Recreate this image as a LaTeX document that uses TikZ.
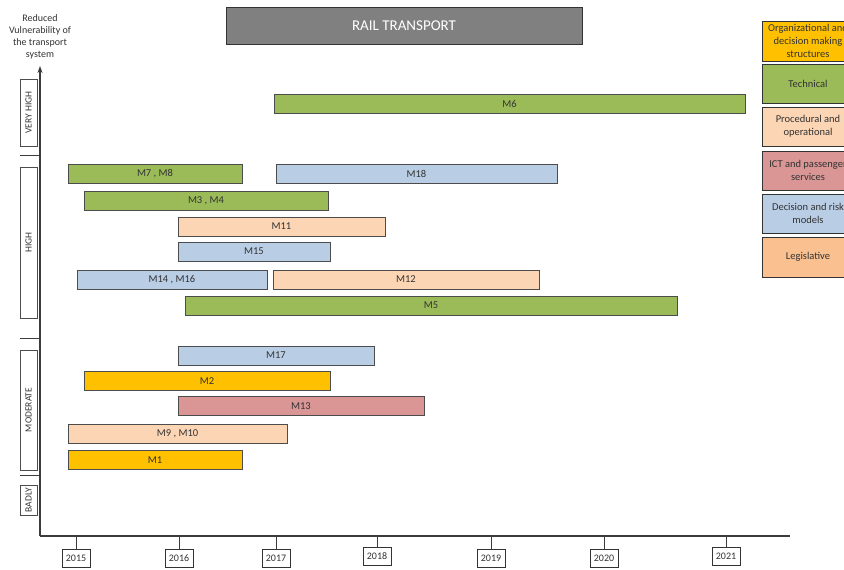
\documentclass[tikz,border=0pt]{standalone}
\usepackage{fontspec}
\setmainfont{Carlito}
\usetikzlibrary{arrows.meta}
\definecolor{techgreen}{RGB}{155,187,89}
\definecolor{procpeach}{RGB}{252,213,181}
\definecolor{ictrose}{RGB}{217,150,148}
\definecolor{decblue}{RGB}{185,205,229}
\definecolor{orgyellow}{RGB}{255,192,0}
\definecolor{legorange}{RGB}{250,192,144}
\definecolor{axisgray}{RGB}{60,60,60}
\begin{document}
\begin{tikzpicture}[x=1pt,y=-1pt,line width=.8pt,
  every node/.style={inner sep=1pt,text=black!80},
  mbar/.style={draw=black!70,minimum height=19pt,inner sep=0pt,font=\fontsize{10.5}{11}\selectfont},
  legbox/.style={draw=black!80,minimum width=92pt,minimum height=39pt,align=center,
    font=\fontsize{10.5}{13}\selectfont},
  level/.style={draw=black!70,rotate=90,minimum height=17pt,inner sep=0pt,
    font=\fontsize{9.5}{10}\selectfont},
  year/.style={draw=black!80,fill=white,minimum width=28pt,minimum height=18pt,inner sep=0pt,
    font=\fontsize{10}{10}\selectfont}]
  \path[use as bounding box] (0,0) rectangle (844,570);
  % title
  \node[draw=black!80,fill=black!50,minimum width=356pt,minimum height=37pt,
    text=white!92,font=\fontsize{15}{17}\selectfont] (title) at (404,25.5) {RAIL TRANSPORT};
  % axes
  \coordinate (O) at (40,536);
  \coordinate (ytop) at (40,66);
  \coordinate (xend) at (790,536);
  \draw[axisgray,line width=1.3pt,-{Stealth[length=7pt,width=5pt]}] (O)--(ytop);
  \draw[axisgray,line width=1.3pt] (O)--(xend);
  \node[align=center,font=\fontsize{10}{12}\selectfont] (ylab) at (40,37)
    {Reduced\\Vulnerability of\\the transport\\system};
  % levels
  \node[level,minimum width=67pt] (vhigh) at (28.5,112.5) {VERY HIGH};
  \node[level,minimum width=151pt] (high) at (28.5,242.5) {HIGH};
  \node[level,minimum width=120pt] (moderate) at (28.5,410) {MODERATE};
  \node[level,minimum width=30pt] (badly) at (28.5,500) {BADLY};
  \coordinate (s1) at (40,155);
  \coordinate (s2) at (40,338);
  \coordinate (s3) at (40,475);
  \draw[axisgray] (s1)--++(-20,0) (s2)--++(-20,0) (s3)--++(-20,0);
  % years
  \node[year] (y2015) at (76,558) {2015};
  \node[year] (y2016) at (179,558) {2016};
  \node[year] (y2017) at (276,558) {2017};
  \node[year] (y2018) at (377,556) {2018};
  \node[year] (y2019) at (491,558) {2019};
  \node[year] (y2020) at (604,558) {2020};
  \node[year] (y2021) at (726,556) {2021};
  \draw[axisgray] (y2015)--(y2015|-O) (y2016)--(y2016|-O) (y2017)--(y2017|-O)
    (y2018)--(y2018|-O) (y2019)--(y2019|-O) (y2020)--(y2020|-O) (y2021)--(y2021|-O);
  % measures
  \node[mbar,fill=techgreen,minimum width=471pt] (m6) at (509.5,103.5) {M6};
  \node[mbar,fill=techgreen,minimum width=174pt] (m7) at (155,173.5) {M7 , M8};
  \node[mbar,fill=decblue,minimum width=281pt] (m18) at (416.5,173.5) {M18};
  \node[mbar,fill=techgreen,minimum width=244pt] (m3) at (206,201) {M3 , M4};
  \node[mbar,fill=procpeach,minimum width=207pt] (m11) at (281.5,226.5) {M11};
  \node[mbar,fill=decblue,minimum width=152pt] (m15) at (254,251.5) {M15};
  \node[mbar,fill=decblue,minimum width=190pt] (m14) at (172,279.5) {M14 , M16};
  \node[mbar,fill=procpeach,minimum width=266pt] (m12) at (406,279.5) {M12};
  \node[mbar,fill=techgreen,minimum width=492pt] (m5) at (431,305.5) {M5};
  \node[mbar,fill=decblue,minimum width=196pt] (m17) at (276,355.5) {M17};
  \node[mbar,fill=orgyellow,minimum width=246pt] (m2) at (207,381) {M2};
  \node[mbar,fill=ictrose,minimum width=246pt] (m13) at (301,406) {M13};
  \node[mbar,fill=procpeach,minimum width=219pt] (m9) at (177.5,433.5) {M9 , M10};
  \node[mbar,fill=orgyellow,minimum width=174pt] (m1) at (155,460) {M1};
  % legend
  \begin{scope}
    \clip (0,0) rectangle (844,570);
    \node[legbox,fill=orgyellow,minimum height=40pt] (lorg) at (808,41)
      {Organizational and\\decision making\\structures};
    \node[legbox,fill=techgreen] (ltech) at (808,83.5) {Technical};
    \node[legbox,fill=procpeach] (lproc) at (808,126.5) {Procedural and\\operational};
    \node[legbox,fill=ictrose] (lict) at (808,170.5) {ICT and passenger\\services};
    \node[legbox,fill=decblue] (ldec) at (808,213.5) {Decision and risk\\models};
    \node[legbox,fill=legorange,minimum height=40pt] (lleg) at (808,257) {Legislative};
  \end{scope}
\end{tikzpicture}
\end{document}
